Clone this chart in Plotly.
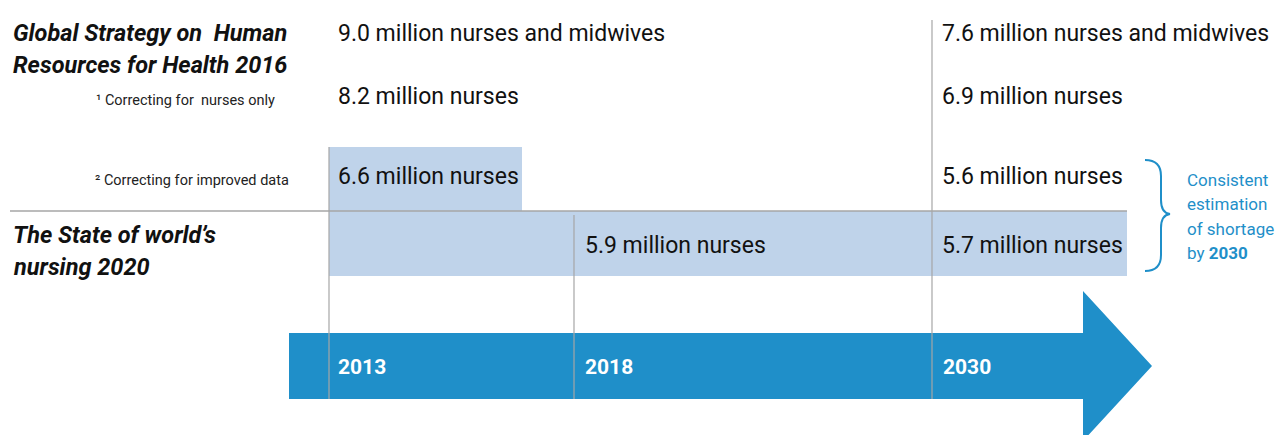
import plotly.graph_objects as go

# ---- data ----
years = ["2013", "2018", "2030"]
gshrh_rows = ["nurses and midwives", "nurses", "nurses"]
gshrh_2013 = [9.0, 8.2, 6.6]
gshrh_2030 = [7.6, 6.9, 5.6]
sown_years = ["2018", "2030"]
sown_values = [5.9, 5.7]
row_notes = ["", "\u00b9 Correcting for  nurses only", "\u00b2 Correcting for improved data"]
side_note = ["Consistent", "estimation", "of shortage", "by <b>2030</b>"]

# ---- layout constants (pixel space) ----
W, H = 1283, 435
OFF = 8  # page body margin
year_x = {"2013": 329, "2018": 574, "2030": 932}
row_y = [33, 96, 176]
sown_y = 245
BLUE = "#1f8fc9"
LIGHT = "#bfd3ea"
GRID = "#a6a6a6"
FONT = "Roboto, Arial"

fig = go.Figure()
shapes = []
ann = []

# light blue boxes
shapes.append(dict(type="rect", x0=year_x["2013"], x1=522, y0=147, y1=211,
                   fillcolor=LIGHT, line_width=0, layer="below"))
shapes.append(dict(type="rect", x0=year_x["2013"], x1=1127, y0=211, y1=276,
                   fillcolor=LIGHT, line_width=0, layer="below"))

# arrow
shapes.append(dict(type="path",
                   path="M 289,333 L 1083,333 L 1083,291 L 1152,366 L 1083,441 L 1083,399 L 289,399 Z",
                   fillcolor=BLUE, line_width=0, layer="below"))

# separator line
shapes.append(dict(type="line", x0=10, x1=1127, y0=211, y1=211,
                   line=dict(color=GRID, width=1.3)))

# year vertical lines
line_top = {"2013": 147, "2018": 215, "2030": 20}
for yr in years:
    shapes.append(dict(type="line", x0=year_x[yr], x1=year_x[yr], y0=line_top[yr], y1=399,
                       line=dict(color=GRID, width=1.2)))

# brace
shapes.append(dict(type="path",
                   path="M 1145,160 Q 1161,160 1161,176 L 1161,200 Q 1161,213 1170,214 "
                        "Q 1161,215 1161,228 L 1161,255 Q 1161,271 1145,271",
                   line=dict(color=BLUE, width=2)))

# section titles
title_font = dict(family=FONT, size=23.5, color="#111111")
ann.append(dict(x=11, y=33, text="<b><i>Global Strategy on  Human</i></b>", font=title_font))
ann.append(dict(x=11, y=65, text="<b><i>Resources for Health 2016</i></b>", font=title_font))
ann.append(dict(x=11, y=235, text="<b><i>The State of world\u2019s</i></b>", font=title_font))
ann.append(dict(x=11, y=267, text="<b><i>nursing 2020</i></b>", font=title_font))

# row notes
note_right = [0, 277, 291]
for i, note in enumerate(row_notes):
    if note:
        ann.append(dict(x=note_right[i], y=row_y[i] + 4, text=note, xanchor="right",
                        font=dict(family=FONT, size=14.5, color="#222222")))

# value labels
val_font = dict(family=FONT, size=23, color="#111111")
for i in range(len(gshrh_rows)):
    ann.append(dict(x=year_x["2013"] + 7, y=row_y[i],
                    text=f"{gshrh_2013[i]:.1f} million {gshrh_rows[i]}", font=val_font))
    ann.append(dict(x=year_x["2030"] + 8, y=row_y[i],
                    text=f"{gshrh_2030[i]:.1f} million {gshrh_rows[i]}", font=val_font))
for yr, v in zip(sown_years, sown_values):
    ann.append(dict(x=year_x[yr] + (9 if yr == "2018" else 8), y=sown_y,
                    text=f"{v:.1f} million nurses", font=val_font))

# year labels on arrow
for yr in years:
    ann.append(dict(x=year_x[yr] + (7 if yr == "2013" else 9), y=367,
                    text=f"<b>{yr}</b>", font=dict(family=FONT, size=21, color="white")))

# side note, one line at a time for the wider line spacing
for i, line in enumerate(side_note):
    ann.append(dict(x=1185, y=180 + i * 24.4, text=line,
                    font=dict(family=FONT, size=17, color=BLUE)))

for a in ann:
    a.setdefault("xanchor", "left")
    a.update(xref="x", yref="y", showarrow=False, yanchor="middle")

fig.update_layout(
    width=W, height=H,
    margin=dict(l=0, r=0, t=0, b=0),
    paper_bgcolor="white", plot_bgcolor="white",
    xaxis=dict(range=[OFF, W + OFF], visible=False, fixedrange=True),
    yaxis=dict(range=[H + OFF, OFF], visible=False, fixedrange=True),
    shapes=shapes, annotations=ann, showlegend=False,
)

fig.write_html("out.html")
